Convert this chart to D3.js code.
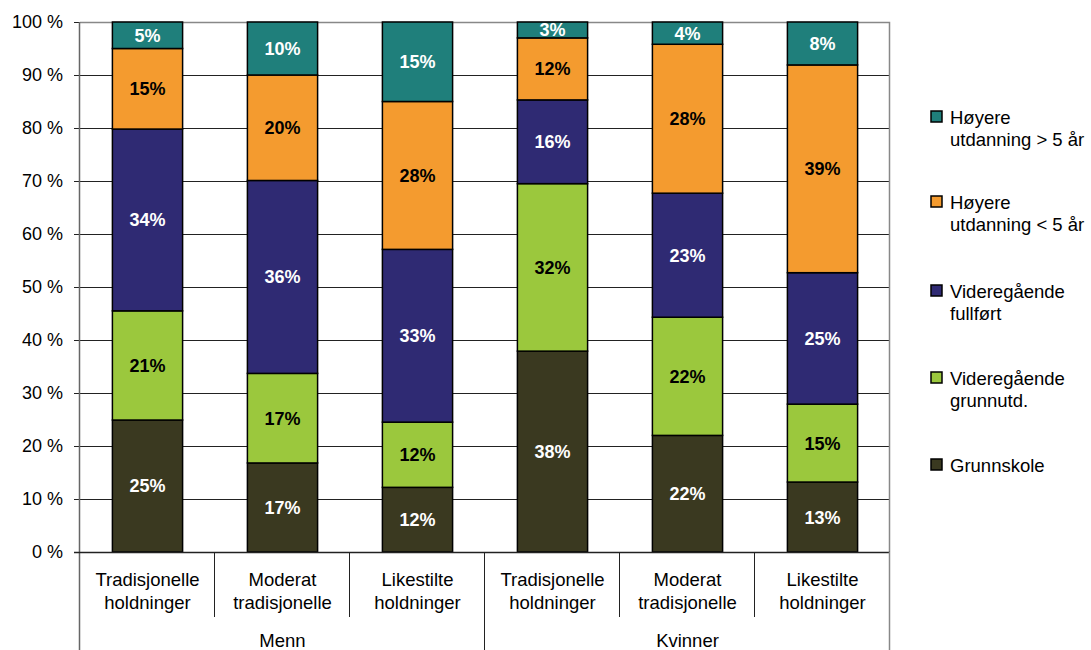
<!DOCTYPE html>
<html lang="no">
<head>
  <meta charset="UTF-8" />
  <title>Utdanning etter holdninger</title>
  <script src="https://d3js.org/d3.v7.min.js"></script>
  <style>
    body { margin: 0; background: #fff; font-family: "Liberation Sans", Arial, sans-serif; }
    svg { display: block; }
  </style>
</head>
<body>
  <div id="chart"></div>
  <script>
    // data
    const groups = ["Menn", "Kvinner"];
    const categories = ["Tradisjonelle\nholdninger", "Moderat\ntradisjonelle", "Likestilte\nholdninger"];
    const series = ["Grunnskole", "Videregående grunnutd.", "Videregående fullført", "Høyere utdanning < 5 år", "Høyere utdanning > 5 år"];
    const legendLines = [
      ["Høyere", "utdanning > 5 år"],
      ["Høyere", "utdanning < 5 år"],
      ["Videregående", "fullført"],
      ["Videregående", "grunnutd."],
      ["Grunnskole"]
    ];
    const grunnskole   = [24.9, 16.8, 12.2, 37.9, 22.0, 13.2];
    const grunnutd     = [20.6, 16.9, 12.3, 31.6, 22.3, 14.7];
    const fullfort     = [34.3, 36.4, 32.6, 15.8, 23.4, 24.8];
    const hoyereUnder5 = [15.2, 19.9, 27.9, 11.7, 28.1, 39.2];
    const hoyereOver5  = [5.0, 10.0, 15.0, 3.0, 4.2, 8.1];
    const yTicks = [0, 10, 20, 30, 40, 50, 60, 70, 80, 90, 100];

    const colors = ["#3a3920", "#9bc83d", "#2f2a73", "#f49b2f", "#1f7f7b"];
    const labelColors = ["#fff", "#000", "#fff", "#000", "#fff"];

    const width = 1091, height = 650;
    const pLeft = 80, pRight = 890, pTop = 22, pBottom = 552;

    const rows = [];
    groups.forEach((g, gi) => categories.forEach((c, ci) => {
      const i = gi * categories.length + ci;
      rows.push({
        key: g + "|" + c, group: g, cat: c,
        [series[0]]: grunnskole[i], [series[1]]: grunnutd[i], [series[2]]: fullfort[i],
        [series[3]]: hoyereUnder5[i], [series[4]]: hoyereOver5[i]
      });
    }));

    const stacked = d3.stack().keys(series)(rows);

    const x = d3.scaleBand().domain(rows.map(d => d.key)).range([pLeft, pRight]).paddingInner(0).paddingOuter(0);
    const y = d3.scaleLinear().domain([0, 100]).range([pBottom, pTop]);
    const barW = x.bandwidth() * 0.52;

    const svg = d3.select("#chart").append("svg")
      .attr("width", width).attr("height", height);

    // gridlines
    svg.append("g").selectAll("line").data(yTicks.slice(1, -1)).join("line")
      .attr("x1", pLeft).attr("x2", pRight)
      .attr("y1", d => Math.round(y(d)) + 0.5).attr("y2", d => Math.round(y(d)) + 0.5)
      .attr("stroke", "#222").attr("stroke-width", 1);

    // plot border (top / right)
    svg.append("path")
      .attr("d", `M${pLeft},${pTop + 0.5}H${pRight - 0.5}V${pBottom}`)
      .attr("fill", "none").attr("stroke", "#888").attr("stroke-width", 1.5);

    // bars
    const layer = svg.append("g").selectAll("g").data(stacked).join("g")
      .attr("fill", (d, i) => colors[i]);
    layer.selectAll("rect").data(d => d).join("rect")
      .attr("x", d => x(d.data.key) + (x.bandwidth() - barW) / 2)
      .attr("y", d => y(d[1]))
      .attr("width", barW)
      .attr("height", d => y(d[0]) - y(d[1]))
      .attr("stroke", "#000").attr("stroke-width", 1.5);

    // segment labels
    stacked.forEach((s, si) => {
      svg.append("g").selectAll("text").data(s).join("text")
        .attr("x", d => x(d.data.key) + x.bandwidth() / 2)
        .attr("y", d => y((d[0] + d[1]) / 2))
        .attr("dy", "0.36em")
        .attr("text-anchor", "middle")
        .attr("font-size", 18).attr("font-weight", "bold")
        .attr("fill", labelColors[si])
        .text(d => Math.round(d[1] - d[0]) + "%");
    });

    // y axis
    const yAxis = svg.append("g").attr("transform", `translate(${pLeft},0)`)
      .call(d3.axisLeft(y).tickValues(yTicks).tickSize(6).tickPadding(11).tickFormat(d => d + " %"));
    yAxis.select(".domain").remove();
    yAxis.selectAll(".tick line").attr("stroke", "#222");
    yAxis.selectAll("text").attr("font-size", 18).attr("fill", "#000")
      .attr("font-family", "'Liberation Sans', Arial, sans-serif");
    svg.append("line").attr("x1", pLeft - 0.5).attr("x2", pLeft - 0.5).attr("y1", pTop).attr("y2", height)
      .attr("stroke", "#666").attr("stroke-width", 1.5);

    // x axis line
    svg.append("line").attr("x1", pLeft - 6).attr("x2", pRight).attr("y1", pBottom + 0.5).attr("y2", pBottom + 0.5)
      .attr("stroke", "#222").attr("stroke-width", 1.5);

    // category dividers
    const bounds = rows.map(d => x(d.key)).concat([pRight]);
    svg.append("g").selectAll("line").data(bounds.slice(1)).join("line")
      .attr("x1", d => d - 0.5).attr("x2", d => d - 0.5)
      .attr("y1", pBottom)
      .attr("y2", (d, i) => (i + 1) % categories.length === 0 ? height : 617)
      .attr("stroke", (d, i) => i === bounds.length - 2 ? "#888" : "#222")
      .attr("stroke-width", (d, i) => i === bounds.length - 2 ? 1.5 : 1);

    // category labels
    svg.append("g").selectAll("text").data(rows).join("text")
      .attr("text-anchor", "middle")
      .attr("font-size", 18.5).attr("fill", "#000")
      .attr("transform", d => `translate(${x(d.key) + x.bandwidth() / 2},586)`)
      .selectAll("tspan").data(d => d.cat.split("\n")).join("tspan")
      .attr("x", 0).attr("dy", (d, i) => i === 0 ? 0 : 23)
      .text(d => d);

    // group labels
    const groupW = x.bandwidth() * categories.length;
    svg.append("g").selectAll("text").data(groups).join("text")
      .attr("x", (d, i) => pLeft + groupW * i + groupW / 2)
      .attr("y", 647)
      .attr("text-anchor", "middle").attr("font-size", 18.5).attr("fill", "#000")
      .text(d => d);

    // legend (top to bottom reversed order of stack)
    const legendY = [117, 202, 291, 378, 465];
    const legend = svg.append("g").selectAll("g").data(legendLines).join("g")
      .attr("transform", (d, i) => `translate(931,${legendY[i]})`);
    legend.append("rect")
      .attr("x", 0).attr("y", -6).attr("width", 11).attr("height", 11)
      .attr("fill", (d, i) => colors[colors.length - 1 - i])
      .attr("stroke", "#000").attr("stroke-width", 1.5);
    legend.append("text")
      .attr("font-size", 18.5).attr("fill", "#000")
      .selectAll("tspan").data(d => d).join("tspan")
      .attr("x", 19).attr("y", (d, i) => i * 22).attr("dy", "0.36em")
      .text(d => d);
  </script>
</body>
</html>
